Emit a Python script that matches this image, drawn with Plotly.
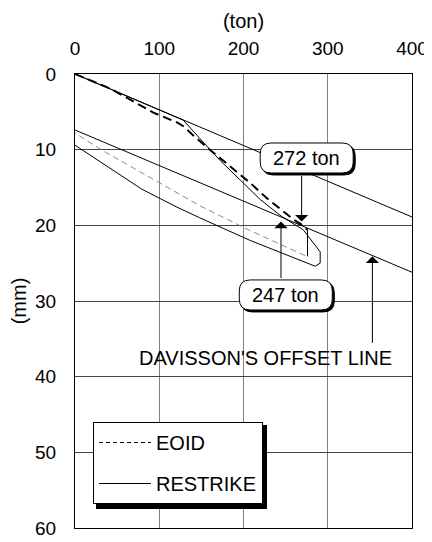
import plotly.graph_objects as go
import re

# ---- data (ton, mm) ----
EOID_LOAD_X = [0, 41.5, 93, 121, 130, 140, 160, 184, 208, 227.5, 248, 259, 269, 276]
EOID_LOAD_Y = [0, 1.9, 5.1, 6.4, 7.0, 8.1, 10.0, 12.2, 14.4, 16.4, 18.3, 19.2, 19.9, 20.6]

EOID_DROP_X = [276, 276]
EOID_DROP_Y = [20.6, 24.1]

EOID_UNLOAD_X = [273, 208, 148, 100, 34, 0]
EOID_UNLOAD_Y = [24.0, 20.7, 17.4, 14.4, 10.2, 7.8]

RESTRIKE_X = [0, 128.5, 148, 172, 196, 220, 245, 271, 291, 291, 285, 208, 148, 121, 79, 40, 0]
RESTRIKE_Y = [0, 6.1, 8.5, 11.4, 14.0, 16.6, 18.8, 20.6, 23.5, 25.0, 25.4, 22.0, 19.0, 17.6, 15.2, 12.3, 9.4]

OFFSET1_X = [0, 400]
OFFSET1_Y = [0, 18.9]
OFFSET2_X = [0, 400]
OFFSET2_Y = [7.4, 26.2]

X_TICKS = [0, 100, 200, 300, 400]
Y_TICKS = [0, 10, 20, 30, 40, 50, 60]

FONT = "Liberation Sans, Arial, sans-serif"

fig = go.Figure()

# Davisson offset lines
fig.add_trace(go.Scatter(x=OFFSET1_X, y=OFFSET1_Y, mode="lines",
                         line=dict(color="black", width=1), showlegend=False, hoverinfo="skip"))
fig.add_trace(go.Scatter(x=OFFSET2_X, y=OFFSET2_Y, mode="lines",
                         line=dict(color="black", width=1), showlegend=False, hoverinfo="skip"))
# EOID
fig.add_trace(go.Scatter(x=EOID_UNLOAD_X, y=EOID_UNLOAD_Y, mode="lines",
                         line=dict(color="#8a8a8a", width=1, dash="6px,4px"), showlegend=False))
fig.add_trace(go.Scatter(x=EOID_DROP_X, y=EOID_DROP_Y, mode="lines",
                         line=dict(color="black", width=1), showlegend=False))
fig.add_trace(go.Scatter(x=EOID_LOAD_X, y=EOID_LOAD_Y, mode="lines",
                         line=dict(color="black", width=2, dash="9px,5px"), showlegend=False))
# RESTRIKE
fig.add_trace(go.Scatter(x=RESTRIKE_X, y=RESTRIKE_Y, mode="lines",
                         line=dict(color="black", width=1), showlegend=False))

# legend entries
fig.add_trace(go.Scatter(x=[None], y=[None], mode="lines", name="EOID", legendgroup="a",
                         line=dict(color="black", width=1, dash="4px,3px")))
fig.add_trace(go.Scatter(x=[None], y=[None], mode="lines", name="RESTRIKE", legendgroup="b",
                         line=dict(color="black", width=1)))


def rounded(w, h, r):
    a, b = w / 2, h / 2
    return (f"M{-a + r},{-b} L{a - r},{-b} Q{a},{-b} {a},{-b + r} L{a},{b - r} "
            f"Q{a},{b} {a - r},{b} L{-a + r},{b} Q{-a},{b} {-a},{b - r} "
            f"L{-a},{-b + r} Q{-a},{-b} {-a + r},{-b} Z")


def shifted(w, h, r, dx, dy):
    def sh(m):
        x, y = float(m.group(1)), float(m.group(2))
        return f"{x + dx},{y + dy}"
    return re.sub(r"(-?[\d.]+),(-?[\d.]+)", sh, rounded(w, h, r))


shapes = []
boxes = [(275, 11.1), (250.2, 29.2)]
for bx, by in boxes:
    shapes.append(dict(type="path", xref="x", yref="y", xsizemode="pixel", ysizemode="pixel",
                       xanchor=bx, yanchor=by, path=shifted(93, 30, 11, 2, -2),
                       fillcolor="black", line=dict(color="black", width=1), layer="above"))
    shapes.append(dict(type="path", xref="x", yref="y", xsizemode="pixel", ysizemode="pixel",
                       xanchor=bx, yanchor=by, path=rounded(93, 30, 11),
                       fillcolor="white", line=dict(color="black", width=1), layer="above"))

# plot area on screen: 75..412 x 74..528 px (page has an 8px body margin)
PL, PR, PT, PB = 75, 412, 74, 528
PW, PH = PR - PL, PB - PT

# legend shadow
shapes.append(dict(type="rect", xref="paper", yref="paper",
                   x0=(96 - PL) / PW, x1=(267 - PL) / PW,
                   y0=(PB - 509) / PH, y1=(PB - 425) / PH,
                   fillcolor="black", line=dict(width=0), layer="above"))

ARROW = dict(text="", showarrow=True, ax=0, arrowhead=1, arrowsize=2.2,
             arrowwidth=1, arrowcolor="black")
annotations = [
    dict(x=275, y=11.1, text="272 ton", showarrow=False, font=dict(size=20, color="black", family=FONT)),
    dict(x=250.2, y=29.2, text="247 ton", showarrow=False, font=dict(size=20, color="black", family=FONT)),
    dict(x=226, y=37.5, text="DAVISSON'S OFFSET LINE", showarrow=False,
         font=dict(size=20, color="black", family=FONT)),
    dict(x=269, y=19.5, ay=-47, **ARROW),
    dict(x=244.5, y=19.5, ay=58, **ARROW),
    dict(x=353, y=24.1, ay=88, **ARROW),
]

OFF = 8
W, H = 432 - OFF, 542 - OFF
fig.update_layout(
    width=W, height=H,
    margin=dict(l=PL - OFF, r=W + OFF - PR, t=PT - OFF, b=H + OFF - PB, autoexpand=False),
    paper_bgcolor="white", plot_bgcolor="white",
    font=dict(family=FONT, size=19, color="black"),
    shapes=shapes, annotations=annotations,
    legend=dict(x=(93 - PL) / PW, y=(PB - 422) / PH, xanchor="left", yanchor="top",
                bgcolor="white", bordercolor="black", borderwidth=1,
                font=dict(size=20, family=FONT, color="black"),
                tracegroupgap=12, itemwidth=52),
)
fig.update_xaxes(side="top", range=[0, 400], tickvals=X_TICKS, showgrid=True, automargin=False,
                 gridcolor="#808080", gridwidth=1, showline=True, linecolor="black", linewidth=1,
                 mirror=True, ticks="", ticklabelstandoff=10, zeroline=False,
                 title=dict(text="(ton)", font=dict(size=20), standoff=4))
fig.update_yaxes(range=[60, 0], tickvals=Y_TICKS, showgrid=True, automargin=False,
                 gridcolor="#444444", gridwidth=1, showline=True, linecolor="black", linewidth=1,
                 mirror=True, ticks="", ticklabelstandoff=14, zeroline=False,
                 title=dict(text="(mm)", font=dict(size=20), standoff=4))

fig.write_html("out.html")
